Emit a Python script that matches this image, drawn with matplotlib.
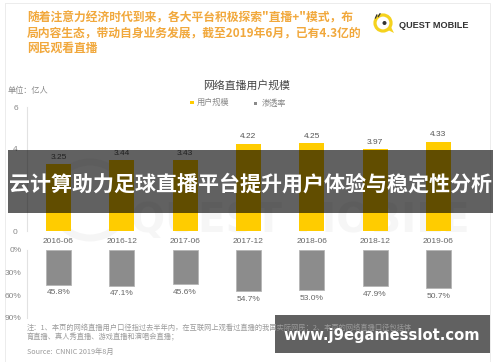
import matplotlib
matplotlib.use('Agg')
import matplotlib.pyplot as plt
from matplotlib.patches import Rectangle, Circle, Polygon

# ---------------- data ----------------
categories = ['2016-06', '2016-12', '2017-06', '2017-12', '2018-06', '2018-12', '2019-06']
users = [3.25, 3.44, 3.43, 4.22, 4.25, 3.97, 4.33]          # 亿人
penetration = [45.8, 47.1, 45.6, 54.7, 53.0, 47.9, 50.7]    # %
user_ticks = [0, 2, 4, 6]
pen_ticks = [0, 30, 60, 90]
pen_tick_labels = ['0%', '30%', '60%', '90%']

header_lines = ['随着注意力经济时代到来，各大平台积极探索"直播+"模式，布',
                '局内容生态，带动自身业务发展，截至2019年6月，已有4.3亿的',
                '网民观看直播']
chart_title = '网络直播用户规模'
legend_labels = ['用户规模', '渗透率']
unit_label = '单位：亿人'
banner_text = '云计算助力足球直播平台提升用户体验与稳定性分析'
note_lines = ['注：1、本页的网络直播用户口径指过去半年内，在互联网上观看过直播的我国实际网民；2、本页的网络直播口径包括体',
              '育直播、真人秀直播、游戏直播和演唱会直播；']
source_text = 'Source:  CNNIC 2019年8月'
watermark_text = 'www.j9egamesslot.com'

# ---------------- layout ----------------
W, H = 500, 362
fig = plt.figure(figsize=(5, 3.62), dpi=100)
fig.patch.set_facecolor('white')

CJK = ['Noto Sans CJK SC', 'DejaVu Sans']
NUM = ['Liberation Sans', 'DejaVu Sans']
YELLOW = '#FFCC00'
GRAY_BAR = '#8C8C8C'


def fbox(x0, y0, x1, y1):
    return [x0 / W, 1 - y1 / H, (x1 - x0) / W, (y1 - y0) / H]


# background layer (pixel coordinates)
bg = fig.add_axes([0, 0, 1, 1], zorder=0)
bg.set_xlim(0, W)
bg.set_ylim(H, 0)
bg.axis('off')

# light frame
bg.add_patch(Rectangle((5, 3), 485, 370, fill=False, ec='#ececec', lw=0.7))

# faint background watermark logo
bg.add_patch(Circle((90, 200), 38, fill=False, ec='#f5f5f5', lw=5))
bg.text(300, 232, 'QUEST MOBILE', fontsize=29, fontweight='bold', color='#f6f6f6',
        ha='center', va='baseline', family=['DejaVu Sans'])

# header text
for i, line in enumerate(header_lines):
    bg.text(27, 18.5 + i * 14.8, line, fontsize=8.5, color='#F1A83C', family=CJK,
            ha='left', va='center', fontweight='bold')

# logo
bg.add_patch(Circle((383, 23), 8, fill=False, ec='#F5D21E', lw=2.3))
bg.add_patch(Polygon([(387, 29.5), (394, 33), (390.5, 26)], closed=True, color='#F5D21E', lw=0))
bg.add_patch(Circle((384.5, 23), 1.3, color='#333333'))
bg.plot([375.5, 376.8], [18, 15], color='#333333', lw=0.9)
bg.plot([378.3, 380], [16.5, 13.8], color='#333333', lw=0.9)
bg.text(399, 25.5, 'QUEST MOBILE', fontsize=6.6, fontweight='bold', color='#333333',
        family=NUM, ha='left', va='center')

# chart title / legend / unit
bg.text(247, 85, chart_title, fontsize=7.8, color='#444444', family=CJK, ha='center', va='center')
bg.add_patch(Rectangle((190, 100.5), 3.6, 3.6, color=YELLOW, lw=0))
bg.text(196.5, 102.5, legend_labels[0], fontsize=5.9, color='#888888', family=CJK, ha='left', va='center')
bg.add_patch(Rectangle((254, 101.5), 3.2, 3.2, color='#8a8a8a', lw=0))
bg.text(262, 103, legend_labels[1], fontsize=5.9, color='#888888', family=CJK, ha='left', va='center')
bg.text(8, 91, unit_label, fontsize=5.9, color='#888888', family=CJK, ha='left', va='center')

# ---------------- upper chart: users ----------------
bar_w = 25 / 63.3
x = list(range(len(categories)))

ax1 = fig.add_axes(fbox(26.85, 107, 470, 231.5), zorder=1)
ax1.set_facecolor('none')
ax1.bar(x, users, width=bar_w, color=YELLOW, zorder=2)
ax1.set_xlim(-0.5, 6.5)
ax1.set_ylim(0, 6)
for s in ['top', 'right', 'bottom']:
    ax1.spines[s].set_visible(False)
ax1.spines['left'].set_color('#e2e2e2')
ax1.spines['left'].set_linewidth(0.8)
ax1.set_yticks(user_ticks)
ax1.set_yticklabels([str(t) for t in user_ticks], family=NUM, fontsize=6, color='#888888')
ax1.set_xticks(x)
ax1.set_xticklabels(categories, family=NUM, fontsize=6, color='#666666')
ax1.tick_params(axis='y', length=0, pad=6.5)
ax1.tick_params(axis='x', length=0, pad=5)
for i, v in zip(x, users):
    ax1.annotate(f'{v:.2f}', (i, v), xytext=(0, 7), textcoords='offset pixels',
                 ha='center', va='center', fontsize=6, color='#555555', family=NUM)

# ---------------- lower chart: penetration ----------------
ax2 = fig.add_axes(fbox(26.85, 250, 470, 318), zorder=1)
ax2.set_facecolor('none')
ax2.bar(x, penetration, width=bar_w, color=GRAY_BAR, edgecolor='#b5b5b5', lw=0.6, zorder=2)
ax2.set_xlim(-0.5, 6.5)
ax2.set_ylim(90, 0)
for s in ['top', 'right', 'bottom']:
    ax2.spines[s].set_visible(False)
ax2.spines['left'].set_color('#e2e2e2')
ax2.spines['left'].set_linewidth(0.8)
ax2.set_yticks(pen_ticks)
ax2.set_yticklabels(pen_tick_labels, family=NUM, fontsize=6, color='#888888')
ax2.set_xticks([])
ax2.tick_params(axis='y', length=0, pad=3.6)
for i, v in zip(x, penetration):
    ax2.annotate(f'{v:.1f}%', (i, v), xytext=(0, -8), textcoords='offset pixels',
                 ha='center', va='center', fontsize=6, color='#666666', family=NUM)

# ---------------- overlay layer ----------------
ov = fig.add_axes([0, 0, 1, 1], zorder=5)
ov.set_facecolor('none')
ov.set_xlim(0, W)
ov.set_ylim(H, 0)
ov.axis('off')

# footnotes
for i, line in enumerate(note_lines):
    ov.text(27, 328 + i * 9.5, line, fontsize=5.2, color='#9a9a9a', family=CJK, ha='left', va='center')
ov.text(27, 352, source_text, fontsize=5.2, color='#9a9a9a', family=CJK, ha='left', va='center')

# banner band
ov.add_patch(Rectangle((8, 150), 485, 63, color='black', alpha=0.62, lw=0))
ov.text(250, 184, banner_text, fontsize=15.1, color='white', fontweight='bold',
        family=CJK, ha='center', va='center')

# watermark box
ov.add_patch(Rectangle((275, 315), 215, 38, color='black', alpha=0.62, lw=0))
ov.text(382, 335.5, watermark_text, fontsize=10.6, color='white', fontweight='bold',
        family=['DejaVu Sans'], ha='center', va='center')

fig.savefig('out.png', dpi=100)
